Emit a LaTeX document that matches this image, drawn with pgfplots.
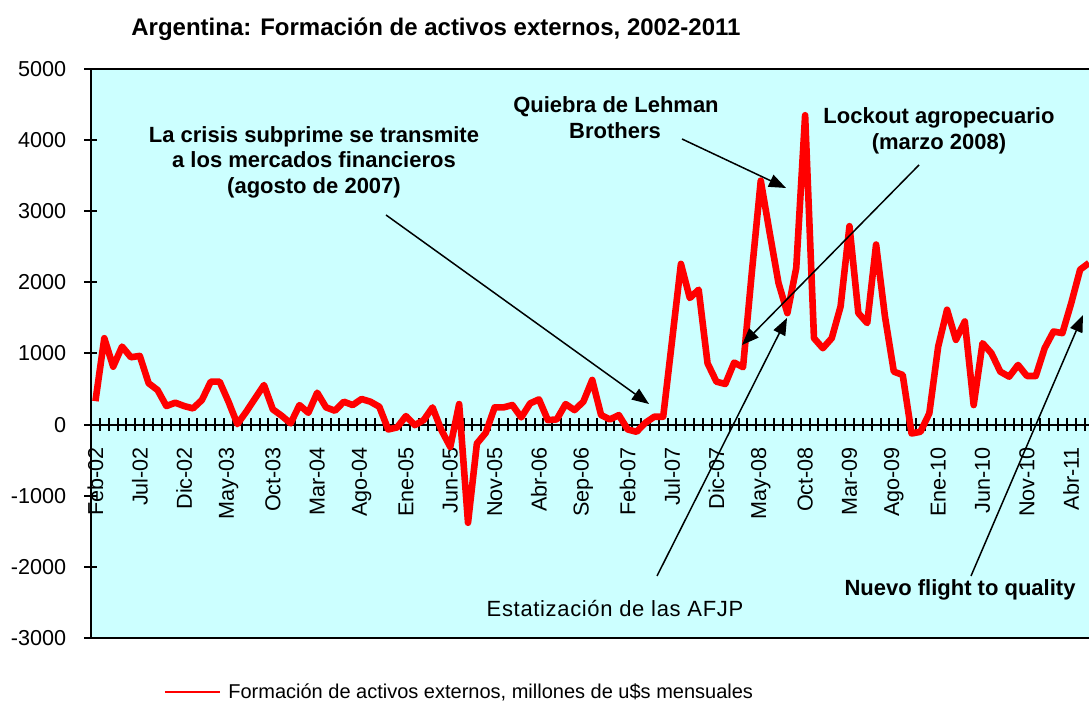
\documentclass[border=0pt]{standalone}
\usepackage{fontspec}
\setmainfont{Liberation Sans}
\usepackage{pgfplots}
\pgfplotsset{compat=1.18}
\usetikzlibrary{arrows.meta}
\definecolor{bgc}{RGB}{204,255,255}
\definecolor{lred}{RGB}{255,0,0}
\begin{document}
\begin{tikzpicture}
\path[use as bounding box] (-45.5pt,-33pt) rectangle (499pt,319pt);
\begin{axis}[
  scale only axis, width=499pt, height=284.5pt,
  at={(0pt,0pt)}, anchor=south west,
  xmin=-0.5, xmax=112, ymin=-3000, ymax=5000,
  axis x line*=middle, axis y line*=left,
  axis line style={line width=1pt, black},
  axis background/.style={fill=bgc},
  clip=false,
  tick align=center,
  major tick length=6.5pt,
  tick style={line width=1pt, black},
  xtick={-0.5,0.5,...,111.5},
  xticklabels={},
  extra x ticks={0,5,...,110},
  extra x tick labels={Feb-02,Jul-02,Dic-02,May-03,Oct-03,Mar-04,Ago-04,Ene-05,Jun-05,Nov-05,Abr-06,Sep-06,Feb-07,Jul-07,Dic-07,May-08,Oct-08,Mar-09,Ago-09,Ene-10,Jun-10,Nov-10,Abr-11},
  extra x tick style={major tick length=0pt, xticklabel style={rotate=90, anchor=east, font=\fontsize{10.8}{12}\selectfont, inner sep=0pt, yshift=0pt, xshift=-11pt}},
  ytick={-3000,-2000,-1000,0,1000,2000,3000,4000,5000},
  yticklabels={-3000,-2000,-1000,0,1000,2000,3000,4000,5000},
  yticklabel style={font=\fontsize{10.8}{12}\selectfont, anchor=east, inner sep=0pt, xshift=-9pt},
]
\addplot[lred, line width=3.3pt, line join=round] coordinates {
(0,330) (1,1215) (2,815) (3,1097) (4,947) (5,966) (6,581) (7,487) (8,261) (9,308)
(10,261) (11,228) (12,345) (13,604) (14,604) (15,322) (16,7) (17,181) (18,370) (19,557)
(20,214) (21,124) (22,17) (23,275) (24,166) (25,449) (26,242) (27,195) (28,322) (29,275)
(30,360) (31,322) (32,251) (33,-68) (34,-40) (35,120) (36,-7) (37,63) (38,242) (39,-78)
(40,-313) (41,289) (42,-1380) (43,-266) (44,-115) (45,242) (46,242) (47,275) (48,101) (49,298)
(50,355) (51,63) (52,73) (53,289) (54,204) (55,322) (56,628) (57,134) (58,73) (59,134)
(60,-68) (61,-101) (62,26) (63,111) (64,111) (65,1180) (66,2260) (67,1780) (68,1897) (69,863)
(70,604) (71,571) (72,872) (73,807) (74,2150) (75,3430) (76,2700) (77,1991) (78,1568) (79,2203)
(80,4350) (81,1215) (82,1074) (83,1215) (84,1662) (85,2790) (86,1568) (87,1427) (88,2532) (89,1521)
(90,745) (91,698) (92,-125) (93,-101) (94,158) (95,1097) (96,1615) (97,1192) (98,1450) (99,275)
(100,1145) (101,1004) (102,745) (103,674) (104,839) (105,684) (106,684) (107,1074) (108,1309) (109,1286)
(110,1709) (111,2179) (112,2273)
};
\end{axis}
\begin{scope}[shift={(-45.5pt,319pt)}, x=0.5pt, y=-0.5pt]
  \draw[line width=1pt] (91,69) -- (1089,69);
  \draw[line width=1pt] (91,638) -- (1089,638);
  % title
  \node[anchor=base west, inner sep=0pt] at (131,36) {\bfseries\fontsize{12}{14}\selectfont Argentina: Formación de activos externos, 2002-2011};
  % annotations
  \begin{scope}[every node/.style={anchor=base, inner sep=0pt, font=\bfseries\fontsize{11}{13}\selectfont}]
    \node at (314,143) {La crisis subprime se transmite};
    \node at (314,168) {a los mercados financieros};
    \node at (314,194) {(agosto de 2007)};
    \node at (616,113) {Quiebra de Lehman};
    \node at (615,139) {Brothers};
    \node at (939,124) {Lockout agropecuario};
    \node at (939,150) {(marzo 2008)};
    \node at (960,596) {Nuevo flight to quality};
  \end{scope}
  \node[anchor=base, inner sep=0pt, font=\fontsize{11}{13}\selectfont\addfontfeatures{LetterSpace=3}] at (615,617) {Estatización de las AFJP};
  % arrows
  \begin{scope}[line width=0.75pt, -{Triangle[length=8.5pt,width=6.5pt]}]
    \draw (386,215) -- (649,404);
    \draw (682,139) -- (786,188);
    \draw (919,165) -- (742,345);
    \draw (657,576) -- (787,318);
    \draw (971,576) -- (1083,315);
  \end{scope}
  % legend
  \draw[lred, line width=1.2pt] (165,692) -- (220,692);
  \node[anchor=base west, inner sep=0pt, font=\fontsize{10}{12}\selectfont] at (228,699) {Formación de activos externos, millones de u\$s mensuales};
\end{scope}
\end{tikzpicture}
\end{document}
